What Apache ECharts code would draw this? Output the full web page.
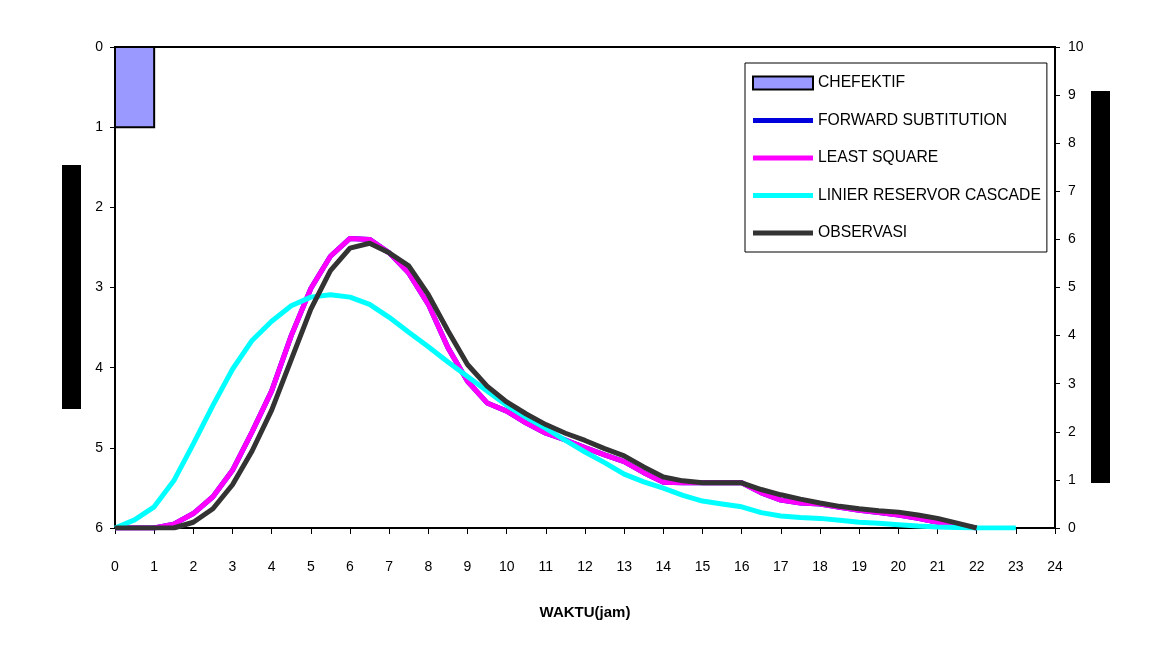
<!DOCTYPE html>
<html>
<head>
<meta charset="utf-8">
<script src="https://cdn.jsdelivr.net/npm/echarts@6/dist/echarts.min.js"></script>
<style>
html, body { margin: 0; padding: 0; background: #fff; }
#chart { width: 1167px; height: 647px; }
</style>
</head>
<body>
<div id="chart"></div>
<script>
// jam (waktu) untuk hidrograf, tiap 0.5 jam
var jam = [0, 0.5, 1, 1.5, 2, 2.5, 3, 3.5, 4, 4.5, 5, 5.5, 6, 6.5, 7, 7.5, 8, 8.5, 9, 9.5,
	10, 10.5, 11, 11.5, 12, 12.5, 13, 13.5, 14, 14.5, 15, 15.5, 16, 16.5, 17, 17.5, 18, 18.5,
	19, 19.5, 20, 20.5, 21, 21.5, 22, 22.5, 23];

// hujan efektif (sumbu kiri, terbalik)
var jamHujanMulai = [0];
var jamHujanAkhir = [1];
var chEfektif = [1];

// debit (sumbu kanan)
var observasi = [0, 0, 0, 0, 0.12, 0.4, 0.9, 1.6, 2.45, 3.5, 4.55, 5.35, 5.82, 5.92, 5.72, 5.45,
	4.85, 4.1, 3.4, 2.95, 2.62, 2.37, 2.15, 1.97, 1.82, 1.65, 1.5, 1.27, 1.06, 0.98, 0.94, 0.94,
	0.94, 0.8, 0.69, 0.6, 0.52, 0.45, 0.4, 0.36, 0.33, 0.27, 0.2, 0.1, 0];
var leastSquare = [0, 0, 0, 0.08, 0.3, 0.65, 1.2, 2.0, 2.85, 4.0, 4.98, 5.65, 6.02, 6.0, 5.72, 5.3,
	4.65, 3.75, 3.05, 2.6, 2.43, 2.18, 1.97, 1.83, 1.67, 1.52, 1.38, 1.15, 0.95, 0.94, 0.94, 0.94,
	0.94, 0.73, 0.58, 0.52, 0.5, 0.43, 0.37, 0.32, 0.27, 0.2, 0.12, 0.06, 0];
var forwardSub = [0, 0, 0, 0.08, 0.3, 0.65, 1.2, 2.0, 2.85, 4.0, 4.98, 5.65, 6.02, 6.0, 5.72, 5.3,
	4.65, 3.75, 3.05, 2.6, 2.43, 2.18, 1.97, 1.83, 1.67, 1.52, 1.38, 1.15, 0.95, 0.94, 0.94, 0.94,
	0.94, 0.73, 0.58, 0.52, 0.5, 0.43, 0.37, 0.32, 0.27, 0.2, 0.12, 0.06, 0];
var linierReservoir = [0, 0.17, 0.44, 0.98, 1.75, 2.55, 3.3, 3.9, 4.3, 4.62, 4.8, 4.85, 4.8, 4.65,
	4.38, 4.07, 3.77, 3.45, 3.15, 2.85, 2.55, 2.3, 2.07, 1.82, 1.58, 1.36, 1.12, 0.96, 0.83, 0.68,
	0.56, 0.5, 0.44, 0.32, 0.25, 0.22, 0.2, 0.16, 0.12, 0.1, 0.07, 0.04, 0.02, 0.01, 0, 0, 0];

function pasang(nilai) { // gabung jam + nilai jadi [x, y]
	var res = [];
	for (var i = 0; i < nilai.length; i++) {
		res.push([jam[i], nilai[i]]);
	}
	return res;
}

var dataHujan = [];
for (var i = 0; i < chEfektif.length; i++) {
	dataHujan.push([jamHujanMulai[i], jamHujanAkhir[i], chEfektif[i]]);
}

var FONT = "'Liberation Sans', Arial, sans-serif";
var IKON_GARIS = 'path://M0,0H60V5H0Z'; // ikon legenda garis tebal
var myChart = echarts.init(document.getElementById('chart'));

var option = {
	backgroundColor: '#fff',
	animation: false,
	textStyle: { fontFamily: FONT },
	grid: {
		left: 115, right: 112, top: 47, bottom: 119,
		show: true, borderColor: '#000', borderWidth: 2
	},
	legend: {
		orient: 'vertical',
		left: 745, top: 63,
		padding: [12, 6, 11, 7],
		itemGap: 21.5,
		itemWidth: 60, itemHeight: 13,
		symbolKeepAspect: true,
		borderColor: '#000', borderWidth: 1,
		backgroundColor: '#fff',
		textStyle: { fontFamily: FONT, fontSize: 15.7, color: '#000', lineHeight: 15 },
		data: [
			{ name: 'CHEFEKTIF', icon: 'rect' },
			{ name: 'FORWARD SUBTITUTION', icon: IKON_GARIS },
			{ name: 'LEAST SQUARE', icon: IKON_GARIS },
			{ name: 'LINIER RESERVOR CASCADE', icon: IKON_GARIS },
			{ name: 'OBSERVASI', icon: IKON_GARIS }
		]
	},
	xAxis: {
		type: 'value', min: 0, max: 24, interval: 1,
		name: 'WAKTU(jam)', nameLocation: 'middle', nameGap: 77,
		nameTextStyle: { fontFamily: FONT, fontSize: 15, fontWeight: 'bold', color: '#000' },
		axisLine: { onZero: false, lineStyle: { color: '#000', width: 2 } },
		axisTick: { length: 6, lineStyle: { color: '#000' } },
		axisLabel: { fontSize: 14, color: '#000', margin: 32 },
		splitLine: { show: false }
	},
	yAxis: [
		{
			type: 'value', inverse: true, min: 0, max: 6, interval: 1, position: 'left',
			axisLine: { show: true, onZero: false, lineStyle: { color: '#000', width: 2 } },
			axisTick: { show: true, length: 5, lineStyle: { color: '#000' } },
			axisLabel: { fontSize: 14, color: '#000', margin: 12 },
			splitLine: { show: false }
		},
		{
			type: 'value', min: 0, max: 10, interval: 1, position: 'right',
			axisLine: { show: true, onZero: false, lineStyle: { color: '#000', width: 2 } },
			axisTick: { show: true, length: 5, lineStyle: { color: '#000' } },
			axisLabel: { fontSize: 14, color: '#000', margin: 13 },
			splitLine: { show: false }
		}
	],
	graphic: [ // judul sumbu (tertutup kotak hitam)
		{ type: 'rect', left: 62, top: 165, shape: { width: 19, height: 244 }, style: { fill: '#000' } },
		{ type: 'rect', left: 1091, top: 91, shape: { width: 19, height: 392 }, style: { fill: '#000' } }
	],
	series: [
		{
			name: 'CHEFEKTIF',
			type: 'custom',
			yAxisIndex: 0,
			itemStyle: { color: '#9999FF', borderColor: '#000', borderWidth: 2 },
			renderItem: function (params, api) {
				var p0 = api.coord([api.value(0), 0]);
				var p1 = api.coord([api.value(1), api.value(2)]);
				return {
					type: 'rect',
					shape: { x: p0[0], y: p0[1], width: p1[0] - p0[0], height: p1[1] - p0[1] },
					style: { fill: '#9999FF', stroke: '#000', lineWidth: 2 }
				};
			},
			encode: { x: [0, 1], y: 2 },
			data: dataHujan
		},
		{
			name: 'FORWARD SUBTITUTION', type: 'line', yAxisIndex: 1, symbol: 'none',
			itemStyle: { color: '#0000DD' },
			lineStyle: { color: '#0000DD', width: 5 },
			data: pasang(forwardSub)
		},
		{
			name: 'LEAST SQUARE', type: 'line', yAxisIndex: 1, symbol: 'none',
			itemStyle: { color: '#FF00FF' },
			lineStyle: { color: '#FF00FF', width: 5 },
			data: pasang(leastSquare)
		},
		{
			name: 'LINIER RESERVOR CASCADE', type: 'line', yAxisIndex: 1, symbol: 'none',
			itemStyle: { color: '#00FFFF' },
			lineStyle: { color: '#00FFFF', width: 5 },
			data: pasang(linierReservoir)
		},
		{
			name: 'OBSERVASI', type: 'line', yAxisIndex: 1, symbol: 'none',
			itemStyle: { color: '#333333' },
			lineStyle: { color: '#333333', width: 5 },
			data: pasang(observasi)
		}
	]
};

myChart.setOption(option);
</script>
</body>
</html>
